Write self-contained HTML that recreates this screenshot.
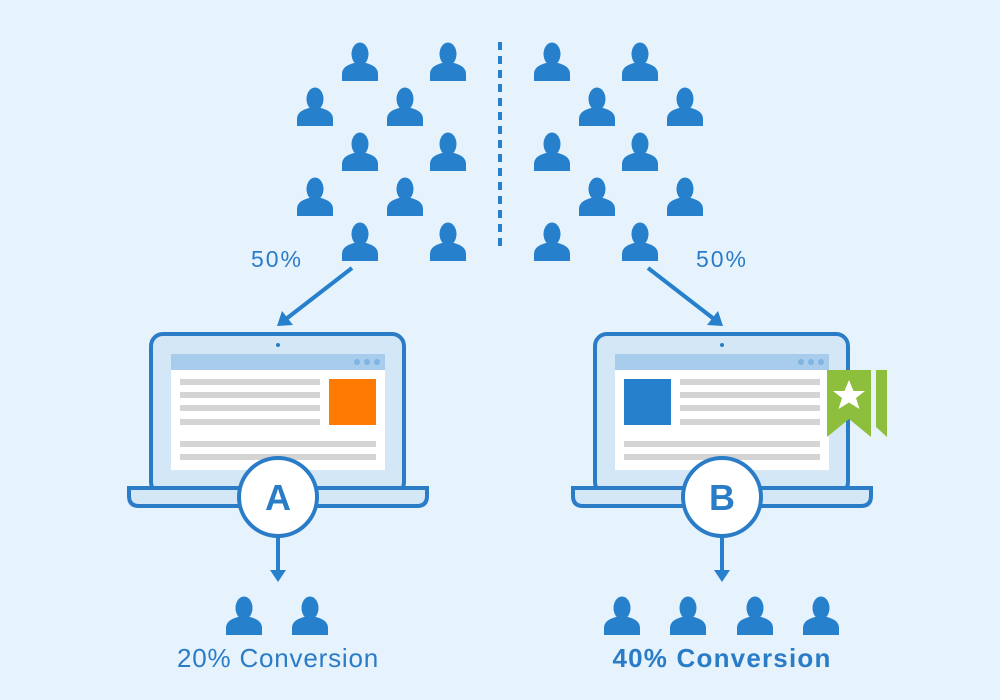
<!DOCTYPE html>
<html><head><meta charset="utf-8"><style>
html,body{margin:0;padding:0;background:#e6f3fd;}
svg{display:block}
text{font-family:"Liberation Sans",sans-serif;fill:#2a7cc7}
</style></head><body>
<svg width="1000" height="700" viewBox="0 0 1000 700" xmlns="http://www.w3.org/2000/svg">
<defs>
<g id="p" fill="#2680cc">
<ellipse cx="0" cy="-8" rx="8.5" ry="11.5"/>
<rect x="-4.5" y="0" width="9" height="6"/>
<path d="M-18,19 V12 Q-18,4 -6,1 L6,1 Q18,4 18,12 V19 Z"/>
</g>
</defs>
<rect width="1000" height="700" fill="#e6f3fd"/>
<!-- left crowd -->
<use href="#p" x="360" y="62"/><use href="#p" x="448" y="62"/>
<use href="#p" x="315" y="107"/><use href="#p" x="405" y="107"/>
<use href="#p" x="360" y="152"/><use href="#p" x="448" y="152"/>
<use href="#p" x="315" y="197"/><use href="#p" x="405" y="197"/>
<use href="#p" x="360" y="242"/><use href="#p" x="448" y="242"/>
<!-- right crowd -->
<use href="#p" x="552" y="62"/><use href="#p" x="640" y="62"/>
<use href="#p" x="597" y="107"/><use href="#p" x="685" y="107"/>
<use href="#p" x="552" y="152"/><use href="#p" x="640" y="152"/>
<use href="#p" x="597" y="197"/><use href="#p" x="685" y="197"/>
<use href="#p" x="552" y="242"/><use href="#p" x="640" y="242"/>
<line x1="500" y1="42" x2="500" y2="248" stroke="#2680cc" stroke-width="4" stroke-dasharray="8,6"/>
<text x="277" y="267" font-size="23" letter-spacing="2" text-anchor="middle">50%</text>
<text x="722" y="267" font-size="23" letter-spacing="2" text-anchor="middle">50%</text>
<line x1="352" y1="268" x2="286" y2="319" stroke="#2680cc" stroke-width="4"/>
<path d="M277,326 L282,311 L293,325 Z" fill="#2680cc"/>
<line x1="648" y1="268" x2="714" y2="319" stroke="#2680cc" stroke-width="4"/>
<path d="M723,326 L718,311 L707,325 Z" fill="#2680cc"/>

<!-- laptop A -->
<rect x="151" y="334" width="253" height="160" rx="12" fill="#d3e7f7" stroke="#2a7cc7" stroke-width="4"/>
<circle cx="278" cy="345" r="2" fill="#2a7cc7"/>
<rect x="171" y="354" width="214" height="116" fill="#fff"/>
<rect x="171" y="354" width="214" height="16" fill="#a8cdec"/>
<circle cx="357" cy="362" r="3" fill="#7fb4e2"/><circle cx="367" cy="362" r="3" fill="#7fb4e2"/><circle cx="377" cy="362" r="3" fill="#7fb4e2"/>
<g fill="#d4d4d4">
<rect x="180" y="379" width="140" height="6"/><rect x="180" y="392" width="140" height="6"/>
<rect x="180" y="405" width="140" height="6"/><rect x="180" y="419" width="140" height="6"/>
<rect x="180" y="441" width="196" height="6"/><rect x="180" y="454" width="196" height="6"/>
</g>
<rect x="329" y="379" width="47" height="46" fill="#ff7a00"/>
<path d="M129,488 H427 V496 Q427,506 417,506 H139 Q129,506 129,496 Z" fill="#d3e7f7" stroke="#2a7cc7" stroke-width="4"/>
<circle cx="278" cy="497" r="39" fill="#fff" stroke="#2a7cc7" stroke-width="4"/>
<text x="278" y="510" font-size="36" font-weight="bold" text-anchor="middle">A</text>
<line x1="278" y1="537" x2="278" y2="572" stroke="#2680cc" stroke-width="4"/>
<path d="M270,570 L286,570 L278,582 Z" fill="#2680cc"/>

<!-- laptop B -->
<rect x="595" y="334" width="253" height="160" rx="12" fill="#d3e7f7" stroke="#2a7cc7" stroke-width="4"/>
<circle cx="722" cy="345" r="2" fill="#2a7cc7"/>
<rect x="615" y="354" width="214" height="116" fill="#fff"/>
<rect x="615" y="354" width="214" height="16" fill="#a8cdec"/>
<circle cx="801" cy="362" r="3" fill="#7fb4e2"/><circle cx="811" cy="362" r="3" fill="#7fb4e2"/><circle cx="821" cy="362" r="3" fill="#7fb4e2"/>
<g fill="#d4d4d4">
<rect x="680" y="379" width="140" height="6"/><rect x="680" y="392" width="140" height="6"/>
<rect x="680" y="405" width="140" height="6"/><rect x="680" y="419" width="140" height="6"/>
<rect x="624" y="441" width="196" height="6"/><rect x="624" y="454" width="196" height="6"/>
</g>
<rect x="624" y="379" width="47" height="46" fill="#2680cc"/>
<path d="M827,370 H871 V437 L849,419 L827,437 Z" fill="#8dbf3c"/>
<path d="M876,370 H887 V437 L876,427 Z" fill="#8dbf3c"/>
<path d="M849,380 L853.5,391 L865,391 L856,398 L859.5,409 L849,402.5 L838.5,409 L842,398 L833,391 L844.5,391 Z" fill="#fff"/>
<path d="M573,488 H871 V496 Q871,506 861,506 H583 Q573,506 573,496 Z" fill="#d3e7f7" stroke="#2a7cc7" stroke-width="4"/>
<circle cx="722" cy="497" r="39" fill="#fff" stroke="#2a7cc7" stroke-width="4"/>
<text x="722" y="510" font-size="36" font-weight="bold" text-anchor="middle">B</text>
<line x1="722" y1="537" x2="722" y2="572" stroke="#2680cc" stroke-width="4"/>
<path d="M714,570 L730,570 L722,582 Z" fill="#2680cc"/>

<!-- results -->
<use href="#p" x="244" y="616"/><use href="#p" x="310" y="616"/>
<use href="#p" x="622" y="616"/><use href="#p" x="688" y="616"/><use href="#p" x="755" y="616"/><use href="#p" x="821" y="616"/>
<text x="278" y="667" font-size="26" letter-spacing="0.8" text-anchor="middle">20% Conversion</text>
<text x="722" y="667" font-size="26" font-weight="bold" letter-spacing="1.2" text-anchor="middle">40% Conversion</text>
</svg>
</body></html>
